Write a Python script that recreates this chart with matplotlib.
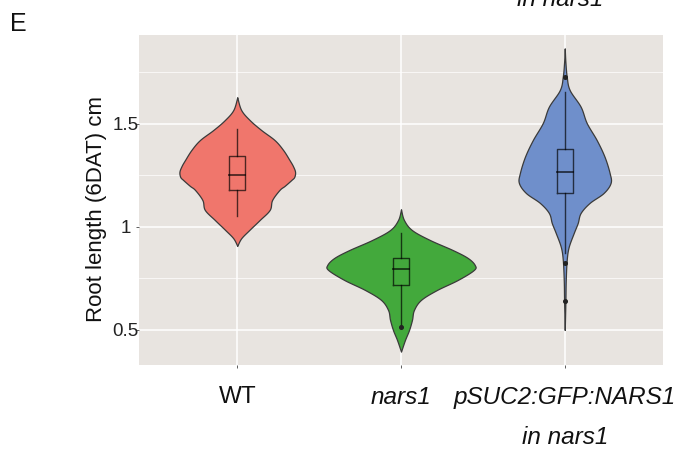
import numpy as np
import matplotlib
matplotlib.use("Agg")
import matplotlib.pyplot as plt
from matplotlib.ticker import MultipleLocator

plt.rcParams['font.family'] = ['Liberation Sans', 'DejaVu Sans']

# ---------------- data ----------------
categories = ["WT", "nars1", "pSUC2:GFP:NARS1\nin nars1"]
colors = ["#F0766C", "#43A93C", "#6F8FCB"]

# violin density profiles: y values (cm) and half widths (category units)
wt_y = [1.630, 1.568, 1.519, 1.471, 1.422, 1.374, 1.325, 1.296, 1.268, 1.243,
        1.228, 1.200, 1.180, 1.131, 1.083, 1.034, 0.985, 0.945, 0.908]
wt_w = [0.0, 0.024, 0.076, 0.146, 0.228, 0.280, 0.319, 0.340, 0.353, 0.348,
        0.330, 0.290, 0.258, 0.213, 0.198, 0.137, 0.073, 0.024, 0.0]

nars_y = [1.086, 1.034, 0.985, 0.937, 0.888, 0.850, 0.816, 0.791, 0.743, 0.694,
          0.646, 0.597, 0.549, 0.500, 0.451, 0.395]
nars_w = [0.0, 0.018, 0.067, 0.176, 0.316, 0.407, 0.450, 0.444, 0.347, 0.219,
          0.122, 0.079, 0.067, 0.049, 0.024, 0.0]

comp_y = [1.867, 1.800, 1.730, 1.665, 1.584, 1.505, 1.422, 1.341, 1.262, 1.214,
          1.165, 1.117, 1.068, 1.019, 0.971, 0.903, 0.840, 0.740, 0.640, 0.500]
comp_w = [0.0, 0.004, 0.012, 0.030, 0.097, 0.134, 0.195, 0.243, 0.274, 0.280,
          0.237, 0.152, 0.097, 0.079, 0.055, 0.024, 0.012, 0.006, 0.004, 0.0]

profiles_y = [wt_y, nars_y, comp_y]
profiles_w = [wt_w, nars_w, comp_w]

# box-plot statistics: lower whisker, Q1, median, Q3, upper whisker
whisker_lo = [1.055, 0.516, 0.874]
q1 = [1.180, 0.718, 1.167]
median = [1.252, 0.795, 1.267]
q3 = [1.345, 0.848, 1.377]
whisker_hi = [1.474, 0.969, 1.657]
outliers = [[], [0.514], [1.730, 0.827, 0.642]]

yticks = [0.5, 1.0, 1.5]
ytick_labels = ["0.5", "1", "1.5"]


def catmull_rom(ys, ws, n=24):
    pts = np.column_stack([ys, ws]).astype(float)
    out = []
    m = len(pts)
    for i in range(m - 1):
        p0 = pts[max(i - 1, 0)]
        p1 = pts[i]
        p2 = pts[i + 1]
        p3 = pts[min(i + 2, m - 1)]
        t = np.linspace(0, 1, n, endpoint=False)[:, None]
        seg = 0.5 * ((2 * p1) + (-p0 + p2) * t + (2 * p0 - 5 * p1 + 4 * p2 - p3) * t ** 2
                     + (-p0 + 3 * p1 - 3 * p2 + p3) * t ** 3)
        out.append(seg)
    out.append(pts[-1][None, :])
    out = np.vstack(out)
    out[:, 1] = np.clip(out[:, 1], 0, None)
    return out[:, 0], out[:, 1]


W, H = 691, 463
fig = plt.figure(figsize=(W / 100, H / 100), dpi=100)
ax = fig.add_axes([139 / W, 1 - 365 / H, 524 / W, 330 / H])
ax.set_facecolor("#E8E4E0")
for s in ax.spines.values():
    s.set_visible(False)

ax.set_xlim(0.4, 3.6)
ax.set_ylim(0.330, 1.932)
ax.set_xticks([1, 2, 3])
ax.set_yticks(yticks)
ax.yaxis.set_minor_locator(MultipleLocator(0.25))
ax.grid(True, which="major", color="white", linewidth=1.1)
ax.grid(True, which="minor", axis="y", color="white", linewidth=0.5)
ax.set_axisbelow(True)
ax.tick_params(which="minor", length=0)
ax.tick_params(which="major", length=2.2, width=0.6, color="#444444")

ax.set_yticklabels(ytick_labels, fontsize=13.5, color="#222222")
ax.tick_params(axis="y", pad=7.6)
for lab in ax.get_yticklabels():
    lab.set_horizontalalignment("center")
ax.set_xticklabels(categories, fontsize=17.5, color="#111111", linespacing=1.95)
ax.tick_params(axis="x", pad=13)
for lab, style in zip(ax.get_xticklabels(), ["normal", "italic", "italic"]):
    lab.set_fontstyle(style)

ax.set_ylabel("Root length (6DAT) cm", fontsize=16, color="#111111")
ax.yaxis.set_label_coords(-0.062, (365 - 209) / 330)

for i in range(3):
    x = i + 1
    yy, ww = catmull_rom(profiles_y[i], profiles_w[i])
    ax.fill_betweenx(yy, x - ww, x + ww, facecolor=colors[i],
                     edgecolor="#3a3a3a", linewidth=0.9, zorder=2)
    bw = 0.05
    lc = (0, 0, 0, 0.68)
    ax.plot([x, x], [q3[i], whisker_hi[i]], color=lc, lw=1.0, zorder=3)
    ax.plot([x, x], [whisker_lo[i], q1[i]], color=lc, lw=1.0, zorder=3)
    ax.plot([x - bw, x + bw, x + bw, x - bw, x - bw],
            [q1[i], q1[i], q3[i], q3[i], q1[i]], color=lc, lw=1.0, zorder=3)
    ax.plot([x - bw, x + bw], [median[i], median[i]], color=lc, lw=1.3, zorder=3)
    if outliers[i]:
        ax.plot([x] * len(outliers[i]), outliers[i], "o", color="#222222",
                markersize=2.6, zorder=4)

fig.text(10 / W, 1 - 31 / H, "E", fontsize=18, color="#111111", ha="left", va="baseline")
fig.text(560 / W, 1 - 6 / H, "in nars1", fontsize=17.5, fontstyle="italic",
         color="#111111", ha="center", va="baseline")

fig.savefig("out.png", dpi=100)
